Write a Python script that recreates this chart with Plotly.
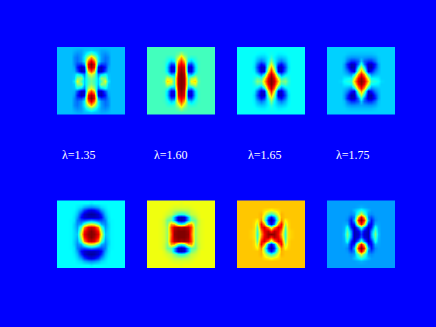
import plotly.graph_objects as go

JET = [[0, "#000080"], [0.125, "#0000ff"], [0.375, "#00ffff"], [0.625, "#ffff00"], [0.875, "#ff0000"], [1, "#800000"]]

# Quadrants of each pattern: rows run outward from the centre, columns run outward from the centre.
top1_bg = 0.31
top1 = [
    [.48, .44, .33, .45, .60, .36],
    [.50, .45, .32, .52, .50, .33],
    [.60, .52, .25, .33, .38, .32],
    [.82, .68, .09, .07, .20, .30],
    [.97, .88, .10, .05, .15, .28],
    [1.0, .90, .26, .18, .19, .26],
    [.92, .78, .36, .27, .23, .26],
    [.72, .58, .36, .28, .24, .26],
    [.48, .42, .33, .28, .26, .28],
    [.33, .32, .31, .29, .29, .30],
]
top2_bg = 0.44
top2 = [
    [1.0, .97, .42, .62, .66, .47],
    [1.0, .97, .42, .54, .58, .45],
    [1.0, .95, .30, .28, .42, .44],
    [.98, .92, .12, .10, .34, .43],
    [.95, .90, .10, .08, .33, .43],
    [.90, .82, .20, .18, .36, .43],
    [.84, .70, .36, .32, .40, .43],
    [.70, .56, .43, .41, .42],
    [.55, .48, .44],
]
top3_bg = 0.38
top3 = [
    [1.0, .93, .68, .48, .50, .42],
    [1.0, .90, .60, .42, .45, .40],
    [.95, .78, .36, .24, .34, .38],
    [.85, .62, .10, .08, .24, .36],
    [.72, .50, .08, .06, .20, .34],
    [.60, .42, .18, .13, .24, .35],
    [.50, .38, .28, .24, .30, .36],
    [.42, .37, .33, .32, .34, .37],
    [.39, .38, .36, .36, .37],
]
top4_bg = 0.33
top4 = [
    [1.0, .93, .68, .42, .40, .38, .34],
    [.98, .88, .58, .38, .37, .36, .33],
    [.88, .72, .36, .26, .30, .32],
    [.72, .52, .10, .14, .25, .30],
    [.56, .36, .06, .04, .18, .28],
    [.42, .24, .07, .06, .16, .28],
    [.32, .22, .17, .17, .24, .31],
    [.29, .28, .27, .27, .29, .32],
    [.31, .31, .31, .31, .32],
]
bot1_bg = 0.375
bot1 = [
    [1.0, .98, .90, .62, .32, .34, .37],
    [1.0, .96, .86, .56, .30, .34, .37],
    [.93, .90, .75, .45, .28, .33, .37],
    [.60, .57, .45, .30, .26, .33, .37],
    [.26, .24, .20, .20, .25, .35, .37],
    [.06, .06, .08, .13, .28, .35],
    [.03, .04, .08, .17, .31, .36],
    [.10, .12, .18, .27, .34, .37],
    [.26, .27, .30, .34, .36],
    [.36],
]
bot2_bg = 0.61
bot2 = [
    [1.0, 1.0, .98, .78, .52, .58, .60],
    [1.0, 1.0, .97, .80, .52, .58, .60],
    [.95, .97, .94, .82, .52, .58, .60],
    [.40, .46, .70, .72, .50, .57, .60],
    [.05, .08, .30, .46, .48, .57, .60],
    [.05, .08, .30, .48, .54, .59],
    [.40, .42, .50, .56, .58, .60],
    [.54, .55, .56, .58, .60],
    [.59, .59, .59, .60],
    [.60],
]
bot3_bg = 0.68
bot3 = [
    [1.0, .98, .88, .72, .42, .65, .67],
    [.85, .95, .90, .76, .43, .65, .67],
    [.55, .75, .92, .86, .47, .66],
    [.10, .25, .72, .88, .55, .66],
    [.03, .15, .50, .74, .63, .67],
    [.12, .25, .55, .70, .68],
    [.42, .48, .62, .70, .68],
    [.62, .64, .66, .68],
]
bot4_bg = 0.28
bot4 = [
    [.18, .08, .05, .28, .50, .32],
    [.22, .10, .05, .26, .46, .31],
    [.45, .25, .06, .15, .40, .30],
    [.88, .65, .15, .12, .30, .29],
    [1.0, .85, .30, .14, .26],
    [.92, .70, .25, .20, .27],
    [.60, .45, .28, .26],
    [.40, .36, .31, .28],
    [.30, .29],
]
labels = ["λ=1.35", "λ=1.60", "λ=1.65", "λ=1.75"]

W, H = 436, 327
CELL = 3.4
N = 11
offsets = [i * CELL for i in range(-(N - 1), N)]
panel_x = [57, 147, 237, 327]
panel_y = [47, 200]
label_x = [79, 171, 264.5, 353]
label_y = 155


def full(quad, bg):
    rows = [list(r) + [bg] * (N - len(r)) for r in quad]
    rows += [[bg] * N for _ in range(N - len(rows))]
    return [[rows[abs(j)][abs(i)] for i in range(-(N - 1), N)] for j in range(-(N - 1), N)]


panels = [
    (top1, top1_bg), (top2, top2_bg), (top3, top3_bg), (top4, top4_bg),
    (bot1, bot1_bg), (bot2, bot2_bg), (bot3, bot3_bg), (bot4, bot4_bg),
]

fig = go.Figure()
layout = {}
shapes = []
for k, (q, bg) in enumerate(panels):
    s = "" if k == 0 else str(k + 1)
    px, py = panel_x[k % 4], panel_y[k // 4]
    fig.add_trace(go.Heatmap(
        z=full(q, bg), x=offsets, y=offsets, colorscale=JET, zmin=0, zmax=1,
        zsmooth="best", showscale=False, hoverinfo="skip", xaxis="x" + s, yaxis="y" + s,
    ))
    layout["xaxis" + s] = dict(domain=[px / W, (px + 68) / W], range=[-34, 34], visible=False, anchor="y" + s)
    layout["yaxis" + s] = dict(domain=[1 - (py + 68) / H, 1 - py / H], range=[-34, 34], visible=False, anchor="x" + s)
    # half-covered edge row of each image
    edge = py + 67 if k < 4 else py
    shapes.append(dict(type="rect", xref="paper", yref="paper", x0=px / W, x1=(px + 68) / W,
                       y0=1 - (edge + 1) / H, y1=1 - edge / H,
                       fillcolor="rgba(0,0,255,0.5)", line_width=0, layer="above"))

fig.update_layout(
    width=W, height=H, margin=dict(l=0, r=0, t=0, b=0),
    paper_bgcolor="#0000ff", plot_bgcolor="#0000ff", showlegend=False, shapes=shapes, **layout,
    annotations=[
        dict(text=t, x=x / W, y=1 - label_y / H, xref="paper", yref="paper", showarrow=False,
             xanchor="center", yanchor="middle",
             font=dict(family="Liberation Serif", size=12, color="white"))
        for t, x in zip(labels, label_x)
    ],
)
fig.write_html(
    "out.html",
    config={"displayModeBar": False},
    post_script="document.body.style.margin='0';document.body.style.background='#0000ff';"
                "document.documentElement.style.overflow='hidden';",
)
